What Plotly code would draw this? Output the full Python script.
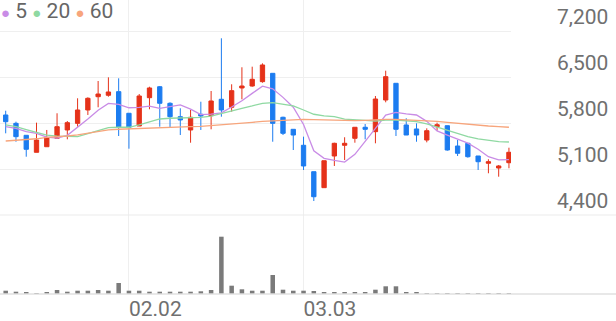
import plotly.graph_objects as go

dates = ["01.15", "01.16", "01.19", "01.20", "01.21", "01.22", "01.23", "01.26", "01.27", "01.28",
         "01.29", "01.30", "02.02", "02.03", "02.04", "02.05", "02.06", "02.09", "02.10", "02.11",
         "02.12", "02.13", "02.19", "02.20", "02.23", "02.24", "02.25", "02.26", "02.27", "03.03",
         "03.04", "03.05", "03.06", "03.09", "03.10", "03.11", "03.12", "03.13", "03.16", "03.17",
         "03.18", "03.19", "03.20", "03.23", "03.24", "03.25", "03.26", "03.27", "03.30", "03.31"]

opens = [5922, 5795, 5613, 5354, 5439, 5567, 5694, 5795, 5998, 6200,
         6222, 6277, 5948, 5754, 6185, 6352, 6100, 5896, 5694, 5933,
         5911, 6161, 6039, 6333, 6363, 6429, 6556, 5887, 5704, 5461,
         5059, 4816, 5298, 5461, 5567, 5735, 5668, 6150, 6404, 5770,
         5709, 5541, 5744, 5759, 5450, 5491, 5298, 5187, 5115, 5196]
highs = [5987, 5820, 5613, 5805, 5694, 5948, 5830, 6176, 6191, 6439,
         6495, 6480, 5948, 6241, 6352, 6363, 6115, 6024, 5998, 6124,
         6287, 7089, 6389, 6648, 6657, 6708, 6556, 5896, 5704, 5592,
         5059, 5226, 5500, 5583, 5735, 5785, 6211, 6596, 6404, 5872,
         5795, 5719, 5805, 5759, 5541, 5491, 5298, 5248, 5161, 5424]
lows = [5643, 5515, 5287, 5354, 5439, 5560, 5552, 5744, 5922, 6039,
        6200, 5602, 5409, 5754, 6009, 5744, 5735, 5617, 5500, 5694,
        5704, 5896, 5972, 6161, 6352, 6413, 5515, 5617, 5389, 5085,
        4613, 4816, 5146, 5237, 5500, 5552, 5491, 6115, 5602, 5617,
        5515, 5506, 5683, 5379, 5298, 5272, 5085, 5035, 4983, 5111]
closes = [5820, 5592, 5400, 5541, 5576, 5744, 5805, 5998, 6176, 6241,
          6272, 5735, 5735, 6211, 6333, 6100, 5896, 5846, 5887, 5907,
          6135, 5998, 6292, 6363, 6465, 6683, 5795, 5643, 5617, 5146,
          4678, 5226, 5491, 5491, 5735, 5704, 6165, 6505, 5704, 5617,
          5617, 5683, 5774, 5389, 5339, 5287, 5211, 5211, 5146, 5354]

volumes = [66000, 46000, 34000, 20000, 34000, 80000, 46000, 66000, 66000, 80000,
           66000, 220000, 66000, 66000, 46000, 46000, 46000, 46000, 46000, 54000,
           80000, 1146000, 166000, 94000, 66000, 66000, 380000, 86000, 66000, 66000,
           60000, 26000, 26000, 26000, 26000, 26000, 86000, 154000, 154000, 34000,
           26000, 14000, 14000, 14000, 14000, 14000, 14000, 14000, 14000, 14000]

ma5 = [5744, 5719, 5668, 5643, 5586, 5571, 5613, 5733, 5860, 5993,
       6098, 6084, 6032, 6039, 6057, 6023, 6055, 6077, 6012, 5927,
       5934, 5955, 6044, 6139, 6251, 6360, 6320, 6190, 6041, 5777,
       5376, 5262, 5232, 5206, 5324, 5529, 5717, 5920, 5963, 5939,
       5922, 5825, 5679, 5616, 5560, 5494, 5400, 5287, 5239, 5242]
ma20 = [5770, 5744, 5700, 5660, 5617, 5600, 5592, 5592, 5640, 5690,
        5729, 5735, 5735, 5770, 5820, 5861, 5872, 5875, 5878, 5885,
        5905, 5948, 5990, 6024, 6060, 6100, 6109, 6089, 6059, 5998,
        5933, 5907, 5896, 5860, 5846, 5840, 5830, 5846, 5846, 5835,
        5820, 5785, 5735, 5694, 5633, 5592, 5557, 5537, 5516, 5511]
ma60 = [5526, 5535, 5545, 5560, 5582, 5590, 5602, 5620, 5643, 5665,
        5694, 5705, 5712, 5719, 5727, 5735, 5740, 5742, 5745, 5750,
        5760, 5770, 5780, 5795, 5810, 5825, 5835, 5845, 5856, 5856,
        5850, 5846, 5840, 5835, 5835, 5840, 5850, 5856, 5856, 5850,
        5845, 5835, 5825, 5811, 5795, 5780, 5765, 5754, 5745, 5735]

price_ticks = [4400, 5100, 5800, 6500, 7200]
date_ticks = ["02.02", "03.03"]
ma_names = ["5", "20", "60"]
ma_colors = ["#c98ce6", "#8fd9a2", "#f7a57c"]

RED = "#e5321a"
BLUE = "#1c7cf0"
TXT = "#707070"
GRID = "#efefef"

fig = go.Figure()

for name, vals, col in zip(ma_names, [ma5, ma20, ma60], ma_colors):
    fig.add_trace(go.Scatter(x=dates, y=vals, mode="lines", name=name,
                             line=dict(color=col, width=1.3), showlegend=False,
                             xaxis="x", yaxis="y", hoverinfo="skip"))

fig.add_trace(go.Candlestick(
    x=dates, open=opens, high=highs, low=lows, close=closes,
    increasing=dict(line=dict(color=RED, width=1), fillcolor=RED),
    decreasing=dict(line=dict(color=BLUE, width=1), fillcolor=BLUE),
    whiskerwidth=0, showlegend=False, xaxis="x", yaxis="y"))

fig.add_trace(go.Bar(x=dates, y=volumes, marker=dict(color="#7a7a7a", line=dict(width=0)),
                     showlegend=False, xaxis="x2", yaxis="y2"))

W, H = 616, 321
plot_w = 511
plot_h = 294
price_px = 215
vol_dom_top = (plot_h - price_px) / plot_h

xrange = [-0.555, 49.2]

fig.update_layout(
    width=W, height=H,
    margin=dict(l=0, r=W - plot_w, t=0, b=H - plot_h, pad=0),
    paper_bgcolor="white", plot_bgcolor="white",
    font=dict(family="Roboto, sans-serif", color=TXT, size=21),
    showlegend=False,
    boxgap=0.4,
    bargap=0.56,
    xaxis=dict(type="category", domain=[0, 1], anchor="y", range=xrange,
               showticklabels=False, tickvals=date_ticks, showgrid=True,
               gridcolor=GRID, gridwidth=1, zeroline=False, showline=False,
               rangeslider=dict(visible=False), ticks=""),
    yaxis=dict(domain=[vol_dom_top, 1], anchor="x", side="right",
               range=[4400, 4400 + price_px * 2800 / 184],
               tickvals=price_ticks, tickformat=",d", showgrid=True,
               gridcolor=GRID, gridwidth=1, zeroline=False, showline=False,
               ticks="", ticklabelstandoff=45, ticklabelshift=-14,
               tickfont=dict(size=21, color=TXT)),
    xaxis2=dict(type="category", domain=[0, 1], anchor="y2", range=xrange,
                matches="x", tickvals=date_ticks, showgrid=True, gridcolor=GRID,
                gridwidth=1, zeroline=False, showline=False, ticks="",
                ticklabelposition="outside right",
                tickfont=dict(size=21, color=TXT)),
    yaxis2=dict(domain=[0, vol_dom_top], anchor="x2", range=[0, 1580000],
                showticklabels=False, showgrid=False, zeroline=False,
                showline=False, ticks=""),
    shapes=[
        dict(type="line", xref="paper", yref="paper", x0=0, x1=W / plot_w,
             y0=vol_dom_top, y1=vol_dom_top, line=dict(color="#ebebeb", width=1)),
        dict(type="line", xref="paper", yref="paper", x0=0, x1=W / plot_w,
             y0=0, y1=0, line=dict(color="#e0e0e0", width=1.5)),
    ],
)

legend_parts = []
for name, col in zip(ma_names, ma_colors):
    legend_parts.append(
        "<span style='color:%s;font-size:15px'>\u25CF</span> <span style='color:#666666'>%s</span>" % (col, name))
fig.add_annotation(xref="paper", yref="paper", x=0, y=1, xanchor="left", yanchor="top",
                   text=" ".join(legend_parts), showarrow=False,
                   font=dict(size=21, color="#666666", family="Roboto, sans-serif"),
                   xshift=-1, yshift=3)

fig.write_html("out.html")
